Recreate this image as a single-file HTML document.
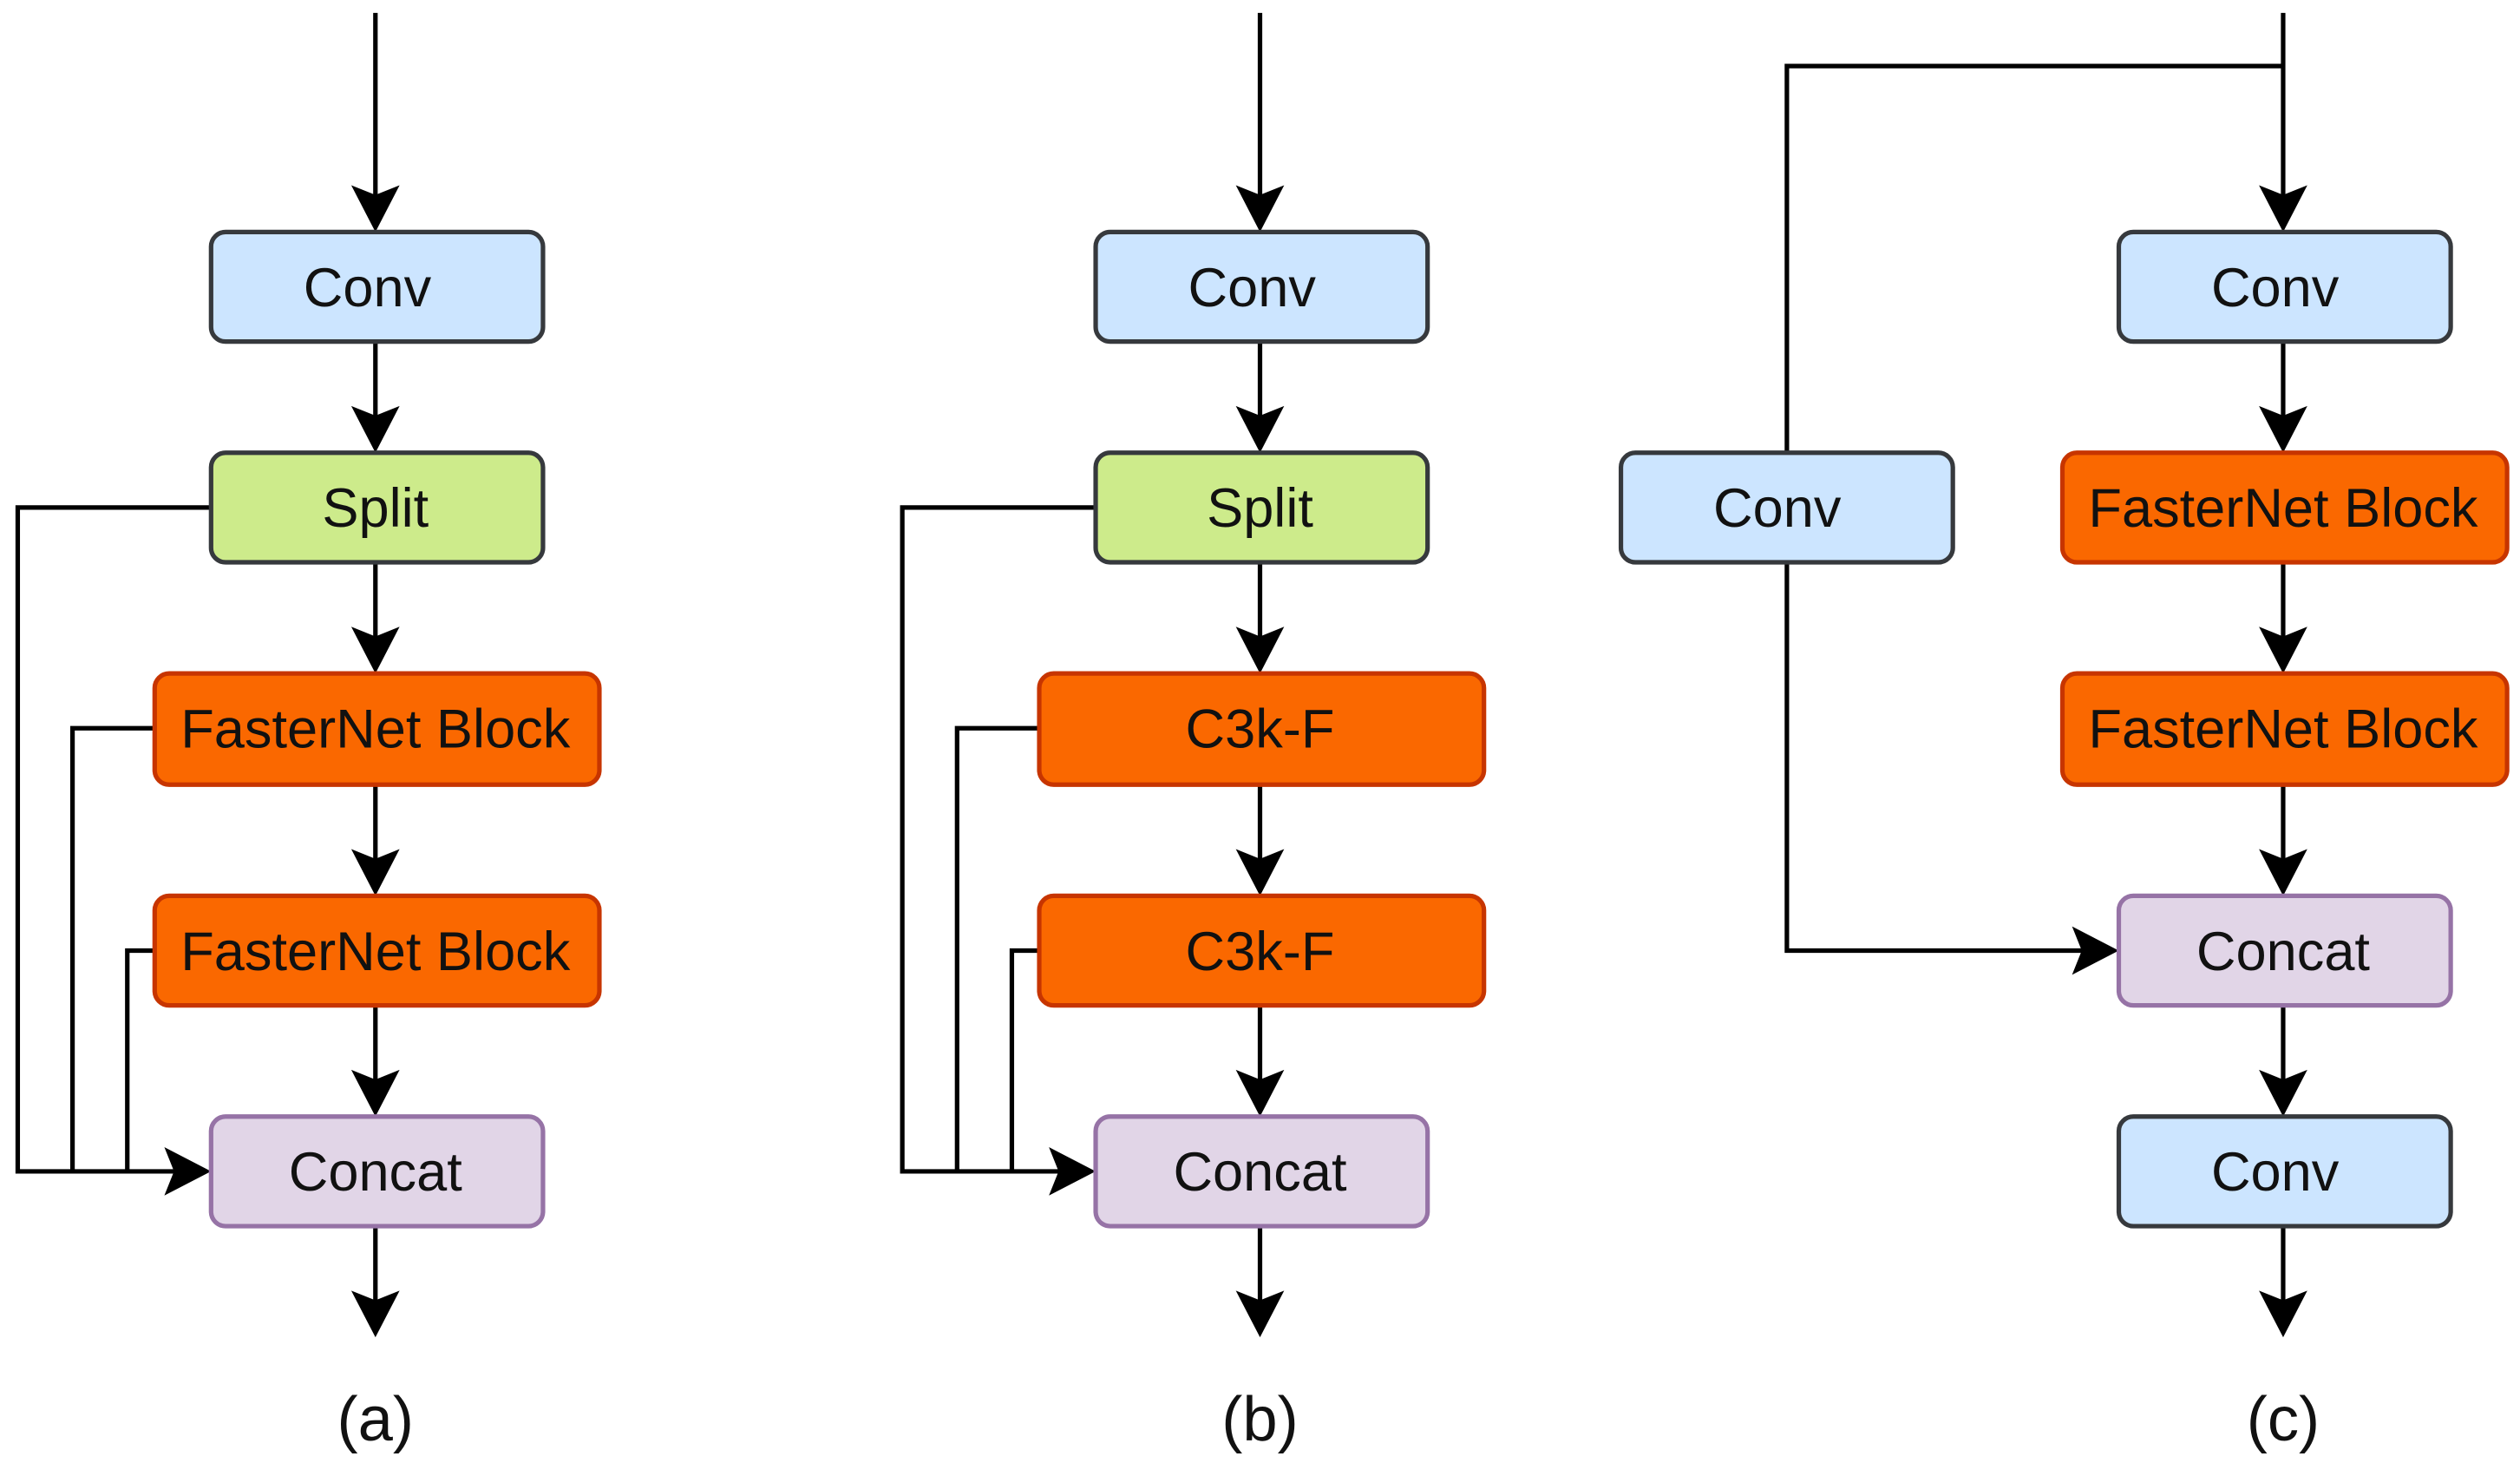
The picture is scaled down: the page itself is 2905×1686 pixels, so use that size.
<!DOCTYPE html>
<html><head><meta charset="utf-8"><style>
html,body{margin:0;padding:0;background:#fff;}
svg{display:block;}
text{font-family:"Liberation Sans",Arial,sans-serif;fill:#111;}
</style></head><body>
<svg width="2905" height="1686" viewBox="0 0 1564 908" preserveAspectRatio="none" xmlns="http://www.w3.org/2000/svg">
<defs>
<path id="ad" d="M0,0 L-15,-29 L0,-23 L15,-29 Z" fill="#000"/>
</defs>
<g fill="none" stroke="#000" stroke-width="2.8">
<path d="M233,8V140 M233,212V277 M233,349V414 M233,487V552 M233,624V689 M233,761V824"/>
<path d="M131,315H11V727H126 M96,452H45V727 M96,590H79V727"/>
<path d="M782,8V140 M782,212V277 M782,349V414 M782,487V552 M782,624V689 M782,761V824"/>
<path d="M680,315H560V727H675 M645,452H594V727 M645,590H628V727"/>
<path d="M1417,8V140 M1417,212V277 M1417,349V414 M1417,487V552 M1417,624V689 M1417,761V824"/>
<path d="M1417,41H1109V281 M1109,349V590H1310"/>
</g>
<g>
<use href="#ad" x="233" y="144"/><use href="#ad" x="233" y="281"/><use href="#ad" x="233" y="418"/><use href="#ad" x="233" y="556"/><use href="#ad" x="233" y="693"/><use href="#ad" x="233" y="830"/>
<use href="#ad" x="782" y="144"/><use href="#ad" x="782" y="281"/><use href="#ad" x="782" y="418"/><use href="#ad" x="782" y="556"/><use href="#ad" x="782" y="693"/><use href="#ad" x="782" y="830"/>
<use href="#ad" x="1417" y="144"/><use href="#ad" x="1417" y="281"/><use href="#ad" x="1417" y="418"/><use href="#ad" x="1417" y="556"/><use href="#ad" x="1417" y="693"/><use href="#ad" x="1417" y="830"/>
<use href="#ad" transform="translate(131,727) rotate(-90)"/>
<use href="#ad" transform="translate(680,727) rotate(-90)"/>
<use href="#ad" transform="translate(1315,590) rotate(-90)"/>
</g>
<g stroke-width="2.8">
<rect x="131" y="144" width="206" height="68" rx="9" fill="#cce5ff" stroke="#36393d"/>
<rect x="131" y="281" width="206" height="68" rx="9" fill="#cdeb8b" stroke="#36393d"/>
<rect x="96" y="418" width="276" height="69" rx="9" fill="#fa6800" stroke="#c73500"/>
<rect x="96" y="556" width="276" height="68" rx="9" fill="#fa6800" stroke="#c73500"/>
<rect x="131" y="693" width="206" height="68" rx="9" fill="#e1d5e7" stroke="#9673a6"/>
<rect x="680" y="144" width="206" height="68" rx="9" fill="#cce5ff" stroke="#36393d"/>
<rect x="680" y="281" width="206" height="68" rx="9" fill="#cdeb8b" stroke="#36393d"/>
<rect x="645" y="418" width="276" height="69" rx="9" fill="#fa6800" stroke="#c73500"/>
<rect x="645" y="556" width="276" height="68" rx="9" fill="#fa6800" stroke="#c73500"/>
<rect x="680" y="693" width="206" height="68" rx="9" fill="#e1d5e7" stroke="#9673a6"/>
<rect x="1315" y="144" width="206" height="68" rx="9" fill="#cce5ff" stroke="#36393d"/>
<rect x="1006" y="281" width="206" height="68" rx="9" fill="#cce5ff" stroke="#36393d"/>
<rect x="1280" y="281" width="276" height="68" rx="9" fill="#fa6800" stroke="#c73500"/>
<rect x="1280" y="418" width="276" height="69" rx="9" fill="#fa6800" stroke="#c73500"/>
<rect x="1315" y="556" width="206" height="68" rx="9" fill="#e1d5e7" stroke="#9673a6"/>
<rect x="1315" y="693" width="206" height="68" rx="9" fill="#cce5ff" stroke="#36393d"/>
</g>
<g font-size="34" text-anchor="middle">
<text x="228" y="190">Conv</text>
<text x="233" y="327">Split</text>
<text x="233" y="464">FasterNet Block</text>
<text x="233" y="602">FasterNet Block</text>
<text x="233" y="739">Concat</text>
<text x="777" y="190">Conv</text>
<text x="782" y="327">Split</text>
<text x="782" y="464">C3k-F</text>
<text x="782" y="602">C3k-F</text>
<text x="782" y="739">Concat</text>
<text x="1412" y="190">Conv</text>
<text x="1103" y="327">Conv</text>
<text x="1417" y="327">FasterNet Block</text>
<text x="1417" y="464">FasterNet Block</text>
<text x="1417" y="602">Concat</text>
<text x="1412" y="739">Conv</text>
</g>
<g font-size="39" text-anchor="middle">
<text x="233" y="894">(a)</text>
<text x="782" y="894">(b)</text>
<text x="1417" y="894">(c)</text>
</g>
</svg>
</body></html>
